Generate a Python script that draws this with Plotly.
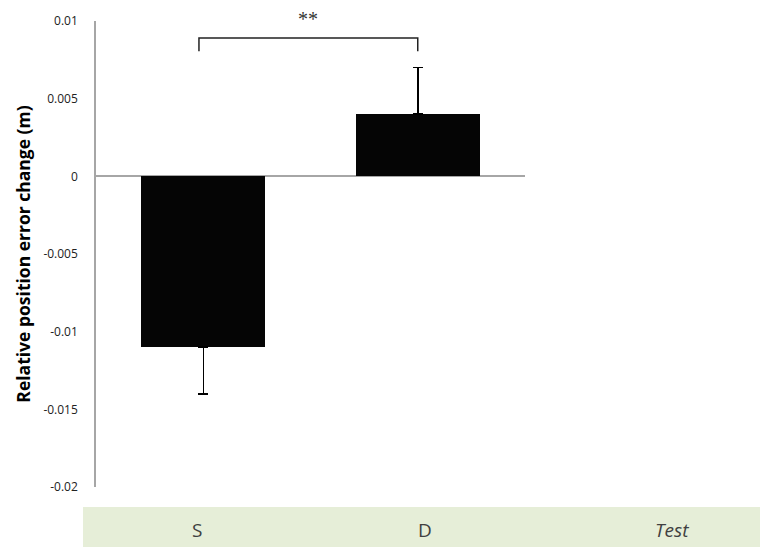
import plotly.graph_objects as go

categories = ["S", "D"]
values = [-0.011, 0.004]
err_up = [0.0, 0.003]
err_down = [0.003, 0.0]
band_labels = ["S", "D", "<i>Test</i>"]
tick_vals = [0.01, 0.005, 0, -0.005, -0.01, -0.015, -0.02]
tick_text = ["0.01", "0.005", "0", "-0.005", "-0.01", "-0.015", "-0.02"]
signif_text = "**"

# page has an 8px body margin; figure is sized to the visible area
W, H = 760, 539
OX, OY = 8, 8
L, R, T, B = 96 - OX, 525 - OX, 21 - OY, 487 - OY  # plot area in figure px
PW, PH = R - L, B - T

def px_x(px):
    return (px - OX - L) / PW

def px_y(py):
    return (B - (py - OY)) / PH

fig = go.Figure()
fig.add_trace(go.Bar(
    x=categories, y=values, width=0.58,
    marker=dict(color="#050505", line=dict(width=0)),
    error_y=dict(type="data", symmetric=False, array=err_up, arrayminus=err_down,
                 color="#000000", thickness=1.5, width=5),
))

# green category band below the plot
fig.add_shape(type="rect", xref="paper", yref="paper",
              x0=px_x(83), x1=px_x(780),
              y0=px_y(560), y1=px_y(507),
              fillcolor="#E6EED8", line=dict(width=0), layer="below")

label_px = [197, 425, 672]
for lab, px in zip(band_labels, label_px):
    fig.add_annotation(xref="paper", yref="paper", x=px_x(px), y=px_y(530),
                       text=lab, showarrow=False,
                       font=dict(family="Open Sans", size=19, color="#404040"),
                       xanchor="center", yanchor="middle")

# significance bracket
fig.add_shape(type="path", xref="x", yref="y",
              path="M -0.02,0.00806 L -0.02,0.0089 L 1,0.0089 L 1,0.00806",
              line=dict(color="#222222", width=1.5))
fig.add_annotation(x=0.49, y=px_y(19), xref="x", yref="paper", text=signif_text, showarrow=False,
                   font=dict(family="Liberation Serif", size=20, color="#333333"),
                   yanchor="middle")

fig.update_layout(
    width=W, height=H,
    margin=dict(l=L, r=W - R, t=T, b=H - B, autoexpand=False),
    plot_bgcolor="white", paper_bgcolor="white",
    showlegend=False,
    bargap=0,
)
fig.update_xaxes(type="category", range=[-0.5, 1.5], showticklabels=False, automargin=False,
                 showline=False, showgrid=False, zeroline=False, ticks="")
fig.update_yaxes(range=[-0.02, 0.01], tickvals=tick_vals, ticktext=tick_text, automargin=False,
                 showgrid=False, showline=True, linecolor="#A6A6A6", linewidth=1.5,
                 zeroline=True, zerolinecolor="#A6A6A6", zerolinewidth=1.5,
                 ticks="", ticklen=0, ticklabelstandoff=14,
                 tickfont=dict(family="Open Sans", size=12, color="#222222"),
                 title=dict(text="<b>Relative position error change (m)</b>",
                            font=dict(family="Open Sans", size=17.5, color="#000000"),
                            standoff=8))

fig.write_html("out.html")
